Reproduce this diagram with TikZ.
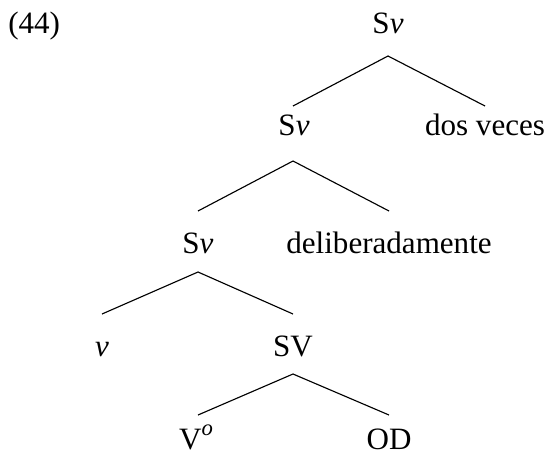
\documentclass[tikz,border=0pt]{standalone}
\usepackage{fontspec}
\setmainfont{Liberation Serif}
\begin{document}
\begin{tikzpicture}[x=0.75pt,y=-0.75pt,
  lbl/.style={anchor=base,inner sep=0pt,font=\fontsize{23.3}{28}\selectfont},
  branch/.style={line width=0.85pt}]
\useasboundingbox (0,0) rectangle (548,457);
% labels of the tree
\node[lbl,anchor=base west] (ex) at (8,33) {(44)};
\node[lbl] (sv1) at (388,33) {S\textit{v}};
\node[lbl] (sv2) at (294,135) {S\textit{v}};
\node[lbl] (dos) at (485,135) {dos veces};
\node[lbl] (sv3) at (198,253) {S\textit{v}};
\node[lbl] (del) at (389,253) {deliberadamente};
\node[lbl] (vv) at (102,356) {\textit{v}};
\node[lbl] (SV) at (293,356) {SV};
\node[lbl] (V0) at (196,449) {V\raisebox{0.42em}{\fontsize{17}{17}\selectfont\itshape o}};
\node[lbl] (OD) at (389,449) {OD};
% branch points below mothers, tops above daughters
\path (sv1.base) ++(0,23) coordinate (sv1-b);
\path (sv2.base) ++(-1,-29) coordinate (sv2-t);
\path (dos.base) ++(0,-29) coordinate (dos-t);
\path (sv2.base) ++(-1,26) coordinate (sv2-b);
\path (sv3.base) ++(0,-42) coordinate (sv3-t);
\path (del.base) ++(0,-42) coordinate (del-t);
\path (sv3.base) ++(0,19) coordinate (sv3-b);
\path (vv.base) ++(0,-42) coordinate (vv-t);
\path (SV.base) ++(0,-42) coordinate (SV-t);
\path (SV.base) ++(0,18) coordinate (SV-b);
\path (V0.base) ++(2,-34) coordinate (V0-t);
\path (OD.base) ++(0,-34) coordinate (OD-t);
% branches
\draw[branch] (sv2-t) -- (sv1-b) -- (dos-t);
\draw[branch] (sv3-t) -- (sv2-b) -- (del-t);
\draw[branch] (vv-t) -- (sv3-b) -- (SV-t);
\draw[branch] (V0-t) -- (SV-b) -- (OD-t);
\end{tikzpicture}
\end{document}
